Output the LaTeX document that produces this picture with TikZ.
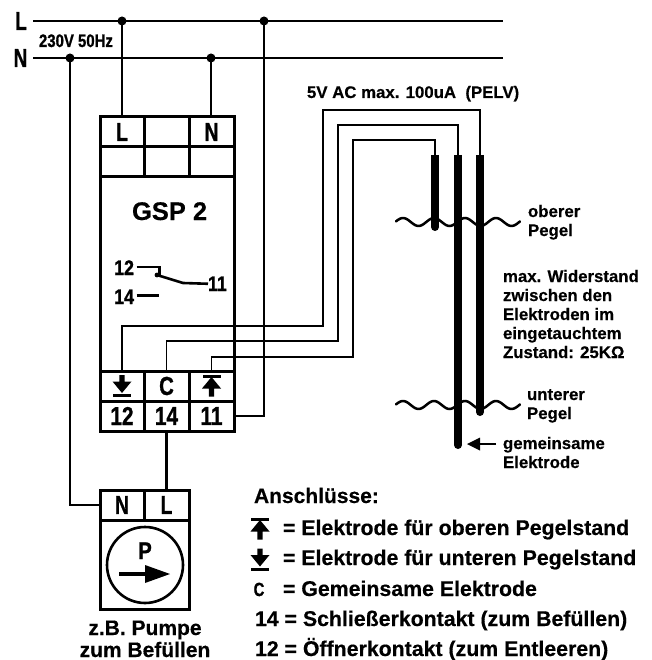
\documentclass[tikz,border=0pt]{standalone}
\usepackage{graphicx}
\usepackage{fontspec}
\setmainfont{Liberation Sans}[BoldFont={Liberation Sans Bold}]
\newfontfamily\heavy{Liberation Sans Bold}[FakeBold=1.2]
\newfontfamily\semiheavy{Liberation Sans Bold}[FakeBold=0.4]
\usetikzlibrary{arrows.meta}
\newcommand{\nw}[2][.74]{\scalebox{#1}[1]{#2}}
\tikzset{
  wire/.style={line width=2.6pt,black},
  thinwire/.style={line width=1.5pt,black},
  outline/.style={draw,line width=3pt,outer sep=0pt,inner sep=0pt,anchor=center},
  cell/.style={outline,font=\heavy\fontsize{26}{26}\selectfont},
  dotnode/.style={circle,fill=black,minimum size=9pt,inner sep=0pt,outer sep=0pt},
  lbl/.style={inner sep=0pt,outer sep=0pt,anchor=base west,font=\semiheavy\fontsize{#1}{#1}\selectfont},
  nlbl/.style={inner sep=0pt,outer sep=0pt,anchor=base,font=\heavy\fontsize{#1}{#1}\selectfont},
  rod/.style={line width=8pt,black},
  wave/.style={line width=2.5pt,black,line cap=round},
}
\newcommand{\upsym}[1]{\fill (#1)++(-9,-11) rectangle ++(18,3);
  \fill (#1)++(0,-9) -- ++(9.5,11.5) -- ++(-6.8,0) -- ++(0,8) -- ++(-5.4,0) -- ++(0,-8) -- ++(-6.8,0) -- cycle;}
\newcommand{\downsym}[1]{\fill (#1)++(-9,8) rectangle ++(18,3);
  \fill (#1)++(0,7) -- ++(9.5,-11.5) -- ++(-6.8,0) -- ++(0,-6.5) -- ++(-5.4,0) -- ++(0,6.5) -- ++(-6.8,0) -- cycle;}
\begin{document}
\begin{tikzpicture}[x=1pt,y=-1pt]
\useasboundingbox[fill=white] (0,0) rectangle (651,660);

% mains
\coordinate (Ls) at (33,21); \coordinate (Le) at (503,21);
\coordinate (Ns) at (33,58); \coordinate (Ne) at (503,58);
\node[dotnode] (d1) at (122,21) {};
\node[dotnode] (d2) at (264,21) {};
\node[dotnode] (d3) at (70,58) {};
\node[dotnode] (d4) at (211,58) {};
\draw[wire] (Ls) -- (Le);
\draw[wire] (Ns) -- (Ne);
\node[nlbl=26] (tL) at (21,30) {\nw[.72]{L}};
\node[nlbl=26] (tN) at (20.5,67) {\nw[.72]{N}};
\node[nlbl=18,anchor=base west] (tv) at (39,47) {\nw[.83]{230V 50Hz}};

% module
\node[outline,minimum width=134pt,minimum height=194pt] (body) at (167,274) {};
\node[cell,minimum width=44pt,minimum height=30pt] (cL) at (122,132) {\nw{L}};
\node[cell,minimum width=45pt,minimum height=30pt] (cM) at (166.5,132) {};
\node[cell,minimum width=45pt,minimum height=30pt] (cN) at (211.5,132) {\nw{N}};
\node[cell,minimum width=44pt,minimum height=30pt] (cL2) at (122,162) {};
\node[cell,minimum width=45pt,minimum height=30pt] (cM2) at (166.5,162) {};
\node[cell,minimum width=45pt,minimum height=30pt] (cN2) at (211.5,162) {};
\node[cell,minimum width=44pt,minimum height=30pt] (s12) at (122,386) {};
\node[cell,minimum width=45pt,minimum height=30pt] (sC) at (166.5,386) {\nw[.78]{C}};
\node[cell,minimum width=45pt,minimum height=30pt] (s11) at (211.5,386) {};
\node[cell,minimum width=44pt,minimum height=30pt] (c12) at (122,416) {\nw[.8]{12}};
\node[cell,minimum width=45pt,minimum height=30pt] (c14) at (166.5,416) {\nw[.8]{14}};
\node[cell,minimum width=45pt,minimum height=30pt] (c11) at (211.5,416) {\nw[.8]{11}};
\downsym{s12.center}
\upsym{s11.center}
\node[lbl=25.5] (gsp) at (132,220) {GSP 2};

% relay symbol
\node[nlbl=21,anchor=base east] (r12) at (134,275) {\nw[.85]{12}};
\node[nlbl=21,anchor=base east] (r14) at (134,304) {\nw[.85]{14}};
\node[nlbl=21,anchor=base west] (r11) at (208,291) {\nw[.85]{11}};
\coordinate (rp) at (157,275);
\draw[line width=2.6pt] (r12.base east)++(2.5,-8) -- ++(23,0) -- ++(0,8);
\draw[line width=2.6pt] (r14.base east)++(2.5,-8.5) -- ++(22,0);
\fill (rp) circle (2.4pt);
\draw[line width=2.6pt] (rp) -- (183,283) -- (r11.west);

% mains drops
\draw[wire] (d1) -- (d1 |- cL.north);
\draw[wire] (d4) -- (d4 |- cN.north);
\draw[wire] (d2) |- (c11.east);

% pump
\node[outline,minimum width=89pt,minimum height=89pt] (pbody) at (144.5,564.5) {};
\node[cell,minimum width=44pt,minimum height=30pt] (pN) at (122,505) {\nw{N}};
\node[cell,minimum width=45pt,minimum height=30pt] (pL) at (166.5,505) {\nw{L}};
\node[draw,circle,line width=2.6pt,minimum size=76pt,inner sep=0pt,outer sep=0pt] (pc) at (145,565) {};
\node[nlbl=24] (pP) at (145,559) {\nw[.85]{P}};
\coordinate (pa) at (119,574); \coordinate (pb) at (170,574);
\fill (pb) -- ++(-25,-9) -- ++(0,18) -- cycle;
\draw[line width=3.6pt] (pa) -- ++(30,0);
\draw[wire] (d3) |- (pN.west);
\draw[wire] (c14.south) -- (pL.north);
\node[nlbl=21,font=\semiheavy\fontsize{21}{21}\selectfont] (zb) at (145,635) {z.B. Pumpe};
\node[nlbl=21,font=\semiheavy\fontsize{21}{21}\selectfont] (zb2) at (145,657) {zum Befüllen};

% electrodes
\coordinate (e1t) at (435,155); \coordinate (e1b) at (435,227);
\coordinate (e2t) at (458,155); \coordinate (e2b) at (458,445);
\coordinate (e3t) at (480,155); \coordinate (e3b) at (480,412);
\foreach \a/\b in {e1t/e1b,e2t/e2b,e3t/e3b}{
  \draw[rod] (\a) -- (\b);
  \fill (\b) circle (4pt);
}
\draw[thinwire] (s12.north) |- (323,326) |- (480,110) -- (e3t);
\draw[thinwire] (sC.north) |- (338,341) |- (458,125) -- (e2t);
\draw[thinwire] (s11.north) |- (353,357) |- (435,140) -- (e1t);
\draw[wave] plot[domain=396:520,samples=80,smooth] (\x,{222-4*cos((\x-403)/31*360)});
\draw[wave] plot[domain=396:520,samples=80,smooth] (\x,{405-4*cos((\x-403)/31*360)});
\node[lbl=16.8] (t5v) at (307,98) {5V AC max. 100uA\ \ (PELV)};
\node[lbl=16.8] (ob1) at (528,217) {oberer};
\node[lbl=16.8] (ob2) at (528,236) {Pegel};
\node[lbl=16.8] (m1) at (503,282) {max. Widerstand};
\node[lbl=16.8] (m2) at (503,301) {zwischen den};
\node[lbl=16.8] (m3) at (503,320) {Elektroden im};
\node[lbl=16.8] (m4) at (503,339) {eingetauchtem};
\node[lbl=16.8] (m5) at (503,358) {Zustand: 25K\symbol{"03A9}};
\node[lbl=16.8] (un1) at (527,400) {unterer};
\node[lbl=16.8] (un2) at (527,419) {Pegel};
\node[lbl=16.8] (ge1) at (503,449) {gemeinsame};
\node[lbl=16.8] (ge2) at (503,468) {Elektrode};
\coordinate (ga) at (496,444);
\coordinate (gt) at (467,444);
\fill (gt) -- ++(13,-6.5) -- ++(0,13) -- cycle;
\draw[line width=2.4pt] (ga) -- ++(-18,0);

% legend
\node[lbl=21] (an) at (254,503) {Anschlüsse:};
\coordinate (lu) at (260,529);
\coordinate (ld) at (260,559.5);
\upsym{lu}
\downsym{ld}
\node[lbl=21.3] (l1) at (283,535) {= Elektrode für oberen Pegelstand};
\node[lbl=21.3] (l2) at (283,565) {= Elektrode für unteren Pegelstand};
\node[nlbl=19,anchor=base] (lc) at (259,596) {\nw[.78]{C}};
\node[lbl=21.3] (l3) at (283,596) {= Gemeinsame Elektrode};
\node[lbl=21.3] (l4) at (255,626) {14 = Schließerkontakt (zum Befüllen)};
\node[lbl=21.3] (l5) at (255,656) {12 = Öffnerkontakt (zum Entleeren)};
\end{tikzpicture}
\end{document}
